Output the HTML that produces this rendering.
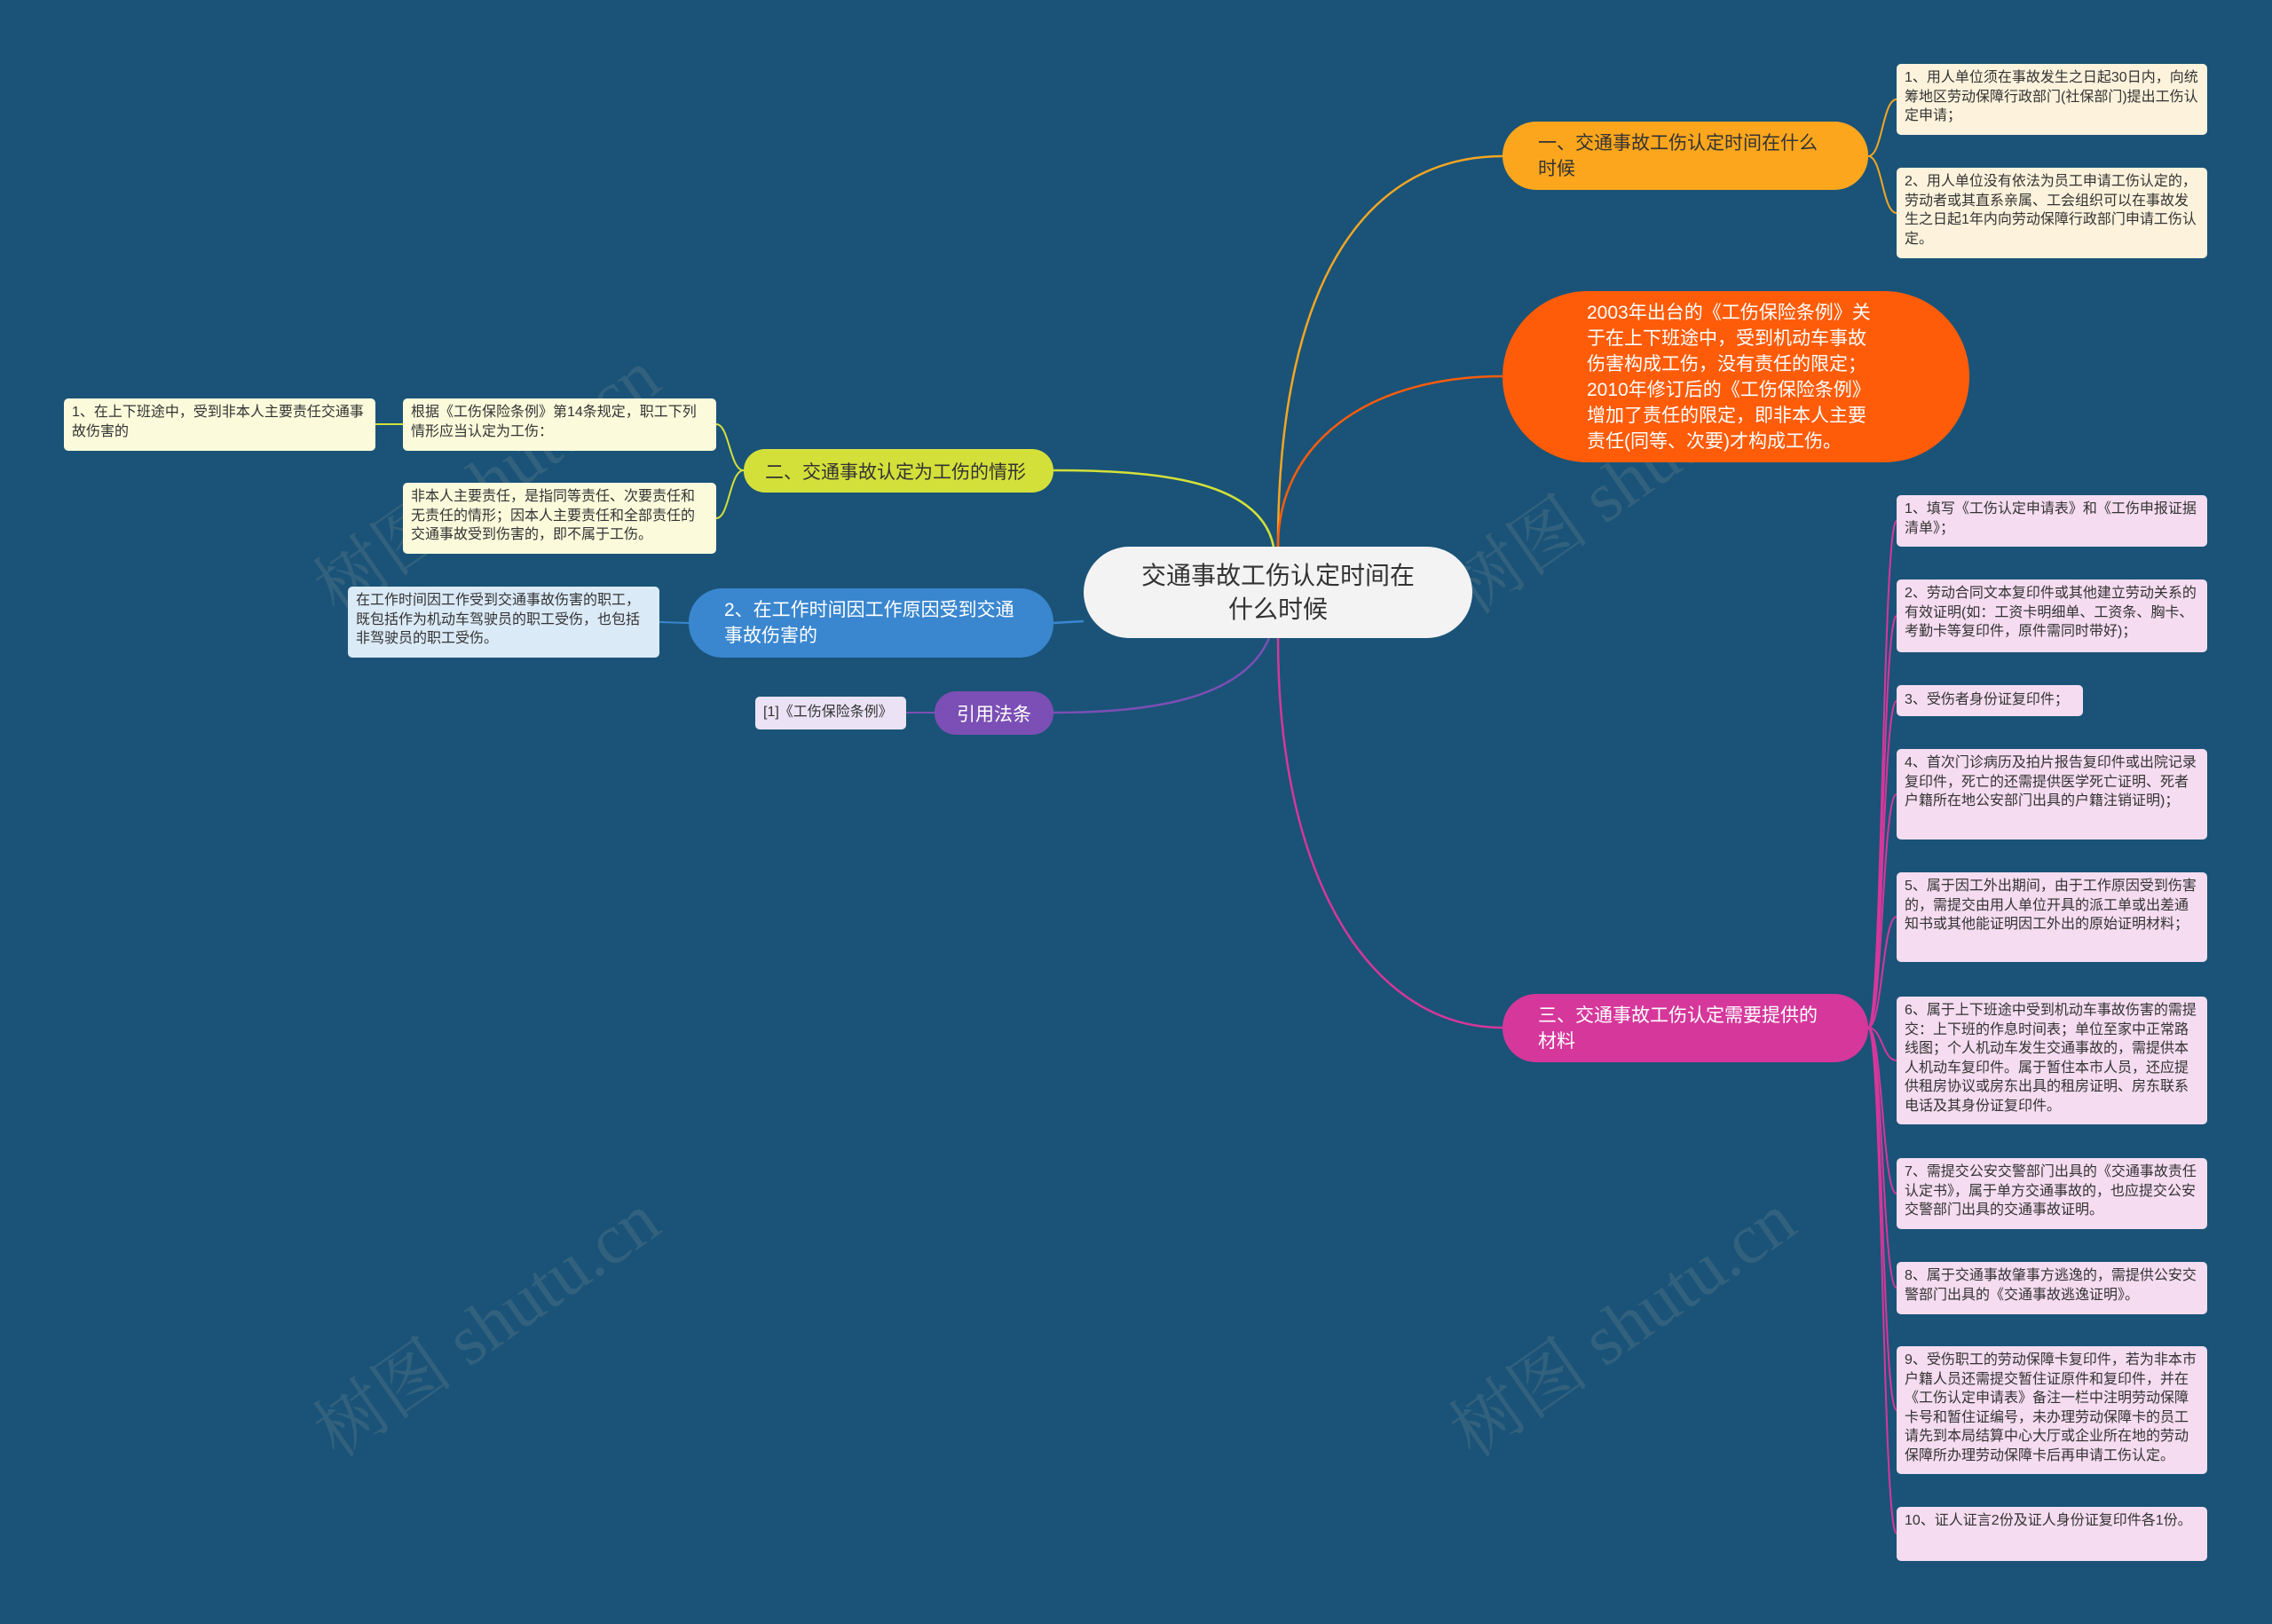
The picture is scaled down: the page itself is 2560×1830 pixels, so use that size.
<!DOCTYPE html>
<html><head><meta charset="utf-8"><style>
body{margin:0;width:2560px;height:1830px;background:#1a5377;position:relative;overflow:hidden;font-family:"Liberation Sans","Noto Sans CJK SC",sans-serif;}
.n{position:absolute;box-sizing:border-box;display:flex;align-items:center;}
.leaf{position:absolute;box-sizing:border-box;font-size:16px;line-height:21.5px;padding:5px 9px;border-radius:5px;color:#333;}
.y{background:#fbfbdc;}.c{background:#fdf3dc;}.p{background:#f5dcf0;}.b{background:#dbeaf7;}.v{background:#ebe3f5;}
.wm{position:absolute;font-size:80px;color:rgba(160,160,160,0.18);transform:rotate(-35deg);white-space:nowrap;font-family:"Liberation Serif","Noto Serif CJK SC",serif;}
</style></head><body>
<svg width="2560" height="1830" style="position:absolute;left:0;top:0" fill="none" stroke-width="2.5">
<path d="M1440 616 C1440 300,1550 176,1693 176" stroke="#f5a623"/>
<path d="M1440 616 C1440 500,1540 424,1693 424" stroke="#ff5c0a"/>
<path d="M1440 719 C1440 1000,1550 1158,1693 1158" stroke="#d6379b"/>
<path d="M1435 616 C1420 540,1300 530,1187 530" stroke="#d4e03a"/>
<path d="M1221 700 L1187 702" stroke="#3a87d0"/>
<path d="M1430 719 C1400 790,1290 803,1187 803" stroke="#7b4fb5"/>
<g stroke="#f5a623" stroke-width="2"><path d="M2105 176 C2121 176,2121 112,2137 112"/><path d="M2105 176 C2121 176,2121 240,2137 240"/></g>
<g stroke="#d4e03a" stroke-width="2"><path d="M838 530 C822 530,822 478,807 478"/><path d="M838 530 C822 530,822 584,807 584"/><path d="M454 478 L423 478"/></g>
<path d="M776 702 L743 701" stroke="#3a87d0" stroke-width="2"/>
<path d="M1053 803 L1021 803" stroke="#7b4fb5" stroke-width="2"/>
<g stroke="#d6379b" stroke-width="2">
<path d="M2105 1158 C2121 1158,2121 587,2137 587"/><path d="M2105 1158 C2121 1158,2121 694,2137 694"/>
<path d="M2105 1158 C2121 1158,2121 790,2137 790"/><path d="M2105 1158 C2121 1158,2121 895,2137 895"/>
<path d="M2105 1158 C2121 1158,2121 1033,2137 1033"/><path d="M2105 1158 C2121 1158,2121 1195,2137 1195"/>
<path d="M2105 1158 C2121 1158,2121 1345,2137 1345"/><path d="M2105 1158 C2121 1158,2121 1451,2137 1451"/>
<path d="M2105 1158 C2121 1158,2121 1589,2137 1589"/><path d="M2105 1158 C2121 1158,2121 1728,2137 1728"/>
</g></svg>
<div class="wm" style="left:320px;top:480px">树图 shutu.cn</div>
<div class="wm" style="left:320px;top:1430px">树图 shutu.cn</div>
<div class="wm" style="left:1600px;top:480px">树图 shutu.cn</div>
<div class="wm" style="left:1600px;top:1430px">树图 shutu.cn</div>

<div class="n" style="left:1221px;top:616px;width:438px;height:103px;background:#f3f3f3;border-radius:52px;justify-content:center;text-align:center;font-size:28px;line-height:38px;color:#333;padding:0 62px">交通事故工伤认定时间在什么时候</div>
<div class="n" style="left:1693px;top:137px;width:412px;height:77px;background:#fba61d;border-radius:38px;font-size:21px;line-height:29px;color:#333;padding:0 40px">一、交通事故工伤认定时间在什么时候</div>
<div class="n" style="left:1693px;top:328px;width:526px;height:193px;background:#ff5c0a;border-radius:96px;font-size:21px;line-height:29px;color:#fff;padding:0 100px 0 95px">2003年出台的《工伤保险条例》关于在上下班途中，受到机动车事故伤害构成工伤，没有责任的限定；2010年修订后的《工伤保险条例》增加了责任的限定，即非本人主要责任(同等、次要)才构成工伤。</div>
<div class="n" style="left:1693px;top:1120px;width:412px;height:77px;background:#d6379b;border-radius:38px;font-size:21px;line-height:29px;color:#fff;padding:0 40px">三、交通事故工伤认定需要提供的材料</div>
<div class="n" style="left:838px;top:506px;width:349px;height:49px;background:#d4e03a;border-radius:24px;font-size:21px;color:#333;padding:0 24px">二、交通事故认定为工伤的情形</div>
<div class="n" style="left:776px;top:663px;width:411px;height:78px;background:#3a87d0;border-radius:38px;font-size:21px;line-height:29px;color:#fff;padding:0 40px">2、在工作时间因工作原因受到交通事故伤害的</div>
<div class="n" style="left:1053px;top:779px;width:134px;height:49px;background:#7b4fb5;border-radius:24px;font-size:21px;color:#fff;justify-content:center">引用法条</div>

<div class="leaf y" style="left:72px;top:449px;width:351px;height:59px">1、在上下班途中，受到非本人主要责任交通事故伤害的</div>
<div class="leaf y" style="left:454px;top:449px;width:353px;height:59px">根据《工伤保险条例》第14条规定，职工下列情形应当认定为工伤：</div>
<div class="leaf y" style="left:454px;top:544px;width:353px;height:80px">非本人主要责任，是指同等责任、次要责任和无责任的情形；因本人主要责任和全部责任的交通事故受到伤害的，即不属于工伤。</div>
<div class="leaf b" style="left:392px;top:661px;width:351px;height:80px">在工作时间因工作受到交通事故伤害的职工，既包括作为机动车驾驶员的职工受伤，也包括非驾驶员的职工受伤。</div>
<div class="leaf v" style="left:851px;top:785px;width:170px;height:37px;padding-top:7px">[1]《工伤保险条例》</div>

<div class="leaf c" style="left:2137px;top:72px;width:350px;height:80px">1、用人单位须在事故发生之日起30日内，向统筹地区劳动保障行政部门(社保部门)提出工伤认定申请；</div>
<div class="leaf c" style="left:2137px;top:189px;width:350px;height:102px">2、用人单位没有依法为员工申请工伤认定的，劳动者或其直系亲属、工会组织可以在事故发生之日起1年内向劳动保障行政部门申请工伤认定。</div>

<div class="leaf p" style="left:2137px;top:558px;width:350px;height:58px">1、填写《工伤认定申请表》和《工伤申报证据清单》；</div>
<div class="leaf p" style="left:2137px;top:653px;width:350px;height:82px">2、劳动合同文本复印件或其他建立劳动关系的有效证明(如：工资卡明细单、工资条、胸卡、考勤卡等复印件，原件需同时带好)；</div>
<div class="leaf p" style="left:2137px;top:772px;width:210px;height:35px;padding-top:6px">3、受伤者身份证复印件；</div>
<div class="leaf p" style="left:2137px;top:844px;width:350px;height:102px">4、首次门诊病历及拍片报告复印件或出院记录复印件，死亡的还需提供医学死亡证明、死者户籍所在地公安部门出具的户籍注销证明)；</div>
<div class="leaf p" style="left:2137px;top:983px;width:350px;height:101px">5、属于因工外出期间，由于工作原因受到伤害的，需提交由用人单位开具的派工单或出差通知书或其他能证明因工外出的原始证明材料；</div>
<div class="leaf p" style="left:2137px;top:1123px;width:350px;height:144px">6、属于上下班途中受到机动车事故伤害的需提交：上下班的作息时间表；单位至家中正常路线图；个人机动车发生交通事故的，需提供本人机动车复印件。属于暂住本市人员，还应提供租房协议或房东出具的租房证明、房东联系电话及其身份证复印件。</div>
<div class="leaf p" style="left:2137px;top:1305px;width:350px;height:80px">7、需提交公安交警部门出具的《交通事故责任认定书》，属于单方交通事故的，也应提交公安交警部门出具的交通事故证明。</div>
<div class="leaf p" style="left:2137px;top:1422px;width:350px;height:59px">8、属于交通事故肇事方逃逸的，需提供公安交警部门出具的《交通事故逃逸证明》。</div>
<div class="leaf p" style="left:2137px;top:1517px;width:350px;height:144px">9、受伤职工的劳动保障卡复印件，若为非本市户籍人员还需提交暂住证原件和复印件，并在《工伤认定申请表》备注一栏中注明劳动保障卡号和暂住证编号，未办理劳动保障卡的员工请先到本局结算中心大厅或企业所在地的劳动保障所办理劳动保障卡后再申请工伤认定。</div>
<div class="leaf p" style="left:2137px;top:1698px;width:350px;height:61px">10、证人证言2份及证人身份证复印件各1份。</div>
</body></html>
